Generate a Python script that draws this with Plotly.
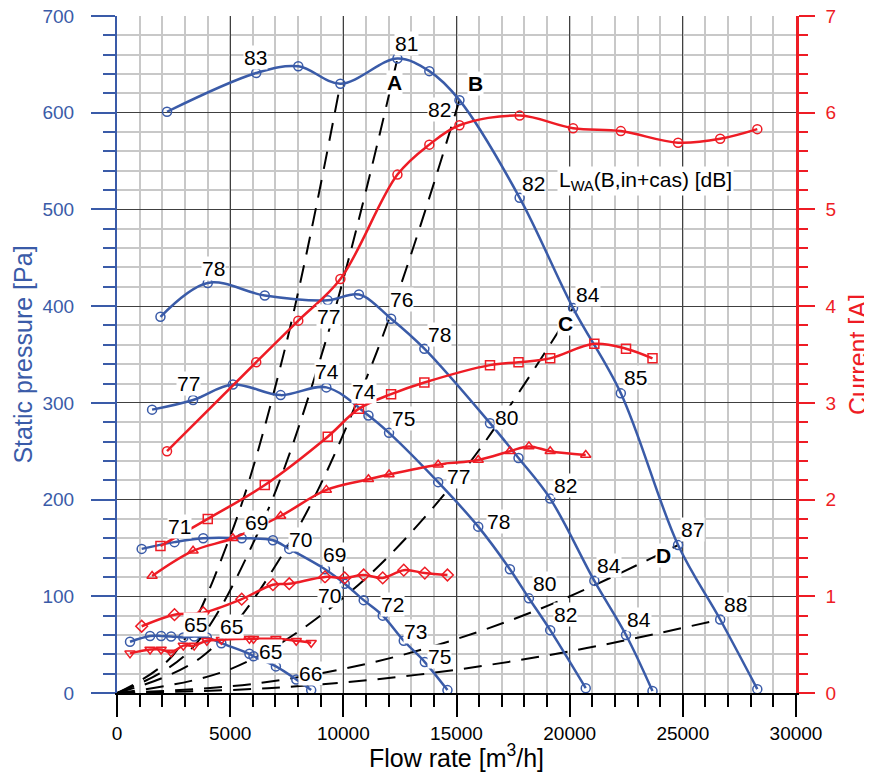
import plotly.graph_objects as go

# ---------------- data ----------------
# Fan curves: flow rate [m3/h], static pressure [Pa], current [A]
q1 = [2210, 6150, 8010, 9870, 12390, 13800, 15130, 17790, 20150, 22260, 24790, 26650, 28290]
p1 = [601, 641, 648, 630, 656, 643, 613, 512, 398, 310, 153, 76, 4]
i1 = [2.50, 3.42, 3.85, 4.28, 5.36, 5.67, 5.87, 5.97, 5.84, 5.81, 5.69, 5.73, 5.83]

q2 = [1920, 4010, 6530, 9310, 10690, 12110, 13580, 16480, 17740, 19140, 21090, 22490, 23660]
p2 = [389, 424, 411, 406, 412, 387, 356, 279, 243, 201, 116, 60, 2]
i2 = [1.52, 1.80, 2.15, 2.65, 2.94, 3.09, 3.21, 3.39, 3.42, 3.46, 3.61, 3.56, 3.46]

q3 = [1550, 3360, 5120, 7230, 9250, 11110, 12020, 14190, 15960, 17360, 18200, 19140, 20710]
p3 = [293, 303, 319, 308, 316, 287, 269, 218, 172, 128, 98, 65, 5]
i3 = [1.21, 1.47, 1.60, 1.83, 2.10, 2.21, 2.26, 2.36, 2.41, 2.50, 2.55, 2.50, 2.46]

q4 = [1090, 2540, 3810, 5510, 6890, 7610, 9190, 10060, 10900, 11740, 12670, 13600, 14600]
p4 = [149, 156, 160, 160, 158, 149, 128, 113, 96, 80, 54, 32, 3]
i4 = [0.69, 0.81, 0.83, 0.97, 1.12, 1.13, 1.20, 1.19, 1.22, 1.19, 1.27, 1.24, 1.22]

q5 = [575, 1460, 1950, 2390, 2930, 3410, 3970, 4610, 5850, 6030, 7020, 7920, 8580]
p5 = [53, 59, 59, 58.5, 57.5, 58.5, 57.5, 51.5, 40.5, 38, 27.5, 14, 3]
i5 = [0.41, 0.45, 0.45, 0.42, 0.49, 0.49, 0.54, 0.55, 0.56, 0.56, 0.56, 0.54, 0.52]

current_symbols = ["circle-open", "square-open", "triangle-up-open", "diamond-open", "triangle-down-open"]

# System curves (dashed)
sys_q = [
    [0, 2470, 4935, 7400, 9870],
    [0, 3100, 6195, 9290, 12390],
    [0, 3780, 7565, 11350, 15130],
    [0, 5040, 10075, 15110, 20150],
    [0, 6200, 12395, 18590, 24790],
    [0, 6660, 13325, 19990, 26650],
]
sys_p = [
    [0, 39, 158, 354, 630],
    [0, 41, 164, 369, 656],
    [0, 38, 153, 345, 613],
    [0, 25, 100, 224, 398],
    [0, 10, 38, 86, 153],
    [0, 5, 19, 43, 76],
]

# Sound power labels LWA [dB]
lab_text = ["83", "81", "82", "82", "84", "85", "87", "88",
            "78", "77", "76", "78", "80", "82", "84", "84",
            "77", "74", "74", "75", "77", "78", "80", "82",
            "71", "69", "70", "69", "70", "72", "73", "75",
            "65", "65", "65", "66"]
lab_q = [6140, 12770, 14270, 18400, 20800, 22890, 25420, 27310,
         4260, 9340, 12580, 14240, 17190, 19820, 21740, 23080,
         3150, 9290, 10910, 12650, 15080, 16850, 18870, 19800,
         2780, 6170, 8120, 9630, 9410, 12170, 13200, 14270,
         3450, 5070, 6760, 8570]
lab_p = [657, 672, 603, 527, 412, 326, 169, 92,
         439, 389, 407, 371, 285, 215, 132, 76,
         320, 332, 312, 284, 224, 177, 113, 81,
         172, 176, 159, 143, 101, 92, 64, 38,
         71, 69, 43, 20]

letter_text = ["A", "B", "C", "D"]
letter_q = [12280, 15850, 19800, 24140]
letter_p = [631, 630, 382, 142]

x_ticks = [0, 5000, 10000, 15000, 20000, 25000, 30000]

BLUE = "#3a5ba8"
RED = "#ee1c25"
FONT = "Arial, Liberation Sans, sans-serif"

fig = go.Figure()

for sq, sp in zip(sys_q, sys_p):
    fig.add_trace(go.Scatter(x=sq, y=sp, mode="lines",
                             line=dict(color="black", width=2, dash="18px,11px", shape="spline"),
                             showlegend=False, hoverinfo="skip"))

for q, p in [(q1, p1), (q2, p2), (q3, p3), (q4, p4), (q5, p5)]:
    fig.add_trace(go.Scatter(x=q, y=p, mode="lines+markers",
                             line=dict(color=BLUE, width=2.5, shape="spline"),
                             marker=dict(symbol="circle-open", size=9, color=BLUE, line=dict(width=1.5)),
                             showlegend=False))

for (q, c), sym in zip([(q1, i1), (q2, i2), (q3, i3), (q4, i4), (q5, i5)], current_symbols):
    fig.add_trace(go.Scatter(x=q, y=c, mode="lines+markers", yaxis="y2",
                             line=dict(color=RED, width=2.5, shape="spline"),
                             marker=dict(symbol=sym, size=9, color=RED, line=dict(width=1.5)),
                             showlegend=False))

annotations = []
for t, x, y in zip(lab_text, lab_q, lab_p):
    annotations.append(dict(x=x, y=y, xref="x", yref="y", text=t, showarrow=False,
                            font=dict(family=FONT, size=21, color="black"),
                            bgcolor="white", borderpad=0, xanchor="center", yanchor="middle"))
for t, x, y in zip(letter_text, letter_q, letter_p):
    annotations.append(dict(x=x, y=y, xref="x", yref="y", text="<b>" + t + "</b>", showarrow=False,
                            font=dict(family=FONT, size=21, color="black"),
                            bgcolor="white", borderpad=0, xanchor="center", yanchor="middle"))
annotations.append(dict(x=19430, y=529, xref="x", yref="y",
                        text="L<sub>WA</sub>(B,in+cas) [dB]", showarrow=False,
                        font=dict(family=FONT, size=21, color="black"),
                        bgcolor="white", borderpad=1, xanchor="left", yanchor="middle"))

fig.update_layout(
    width=864, height=764,
    margin=dict(l=109, r=76, t=8, b=79),
    paper_bgcolor="white", plot_bgcolor="white",
    font=dict(family=FONT),
    annotations=annotations,
    xaxis=dict(range=[0, 30000], tickvals=x_ticks, tickformat="d", ticks="outside", ticklen=22, tickwidth=2,
               tickcolor="black", showline=True, linecolor="black", linewidth=2,
               showgrid=True, gridcolor="#404040", gridwidth=1, zeroline=False,
               tickfont=dict(size=19, color="black"), ticklabelstandoff=0,
               ticklabeloverflow="allow",
               minor=dict(dtick=1000, ticks="outside", ticklen=12, tickwidth=2, tickcolor="black",
                          showgrid=True, gridcolor="#c8c8c8", gridwidth=1.5),
               title=dict(text="Flow rate [m<sup>3</sup>/h]", font=dict(size=25, color="black"), standoff=0),
               automargin=False),
    yaxis=dict(range=[0, 700], dtick=100, ticks="outside", ticklen=24, tickwidth=2,
               tickcolor=BLUE, showline=True, linecolor=BLUE, linewidth=2,
               showgrid=True, gridcolor="#404040", gridwidth=1, zeroline=False,
               tickfont=dict(size=19, color=BLUE), ticklabelstandoff=13,
               ticklabeloverflow="allow",
               minor=dict(dtick=20, ticks="outside", ticklen=12, tickwidth=2, tickcolor=BLUE,
                          showgrid=True, gridcolor="#c8c8c8", gridwidth=1.5),
               title=dict(text="Static pressure [Pa]", font=dict(size=25, color=BLUE), standoff=3),
               automargin=False),
    yaxis2=dict(range=[0, 7], dtick=1, overlaying="y", side="right", ticks="outside", ticklen=16,
                tickwidth=2, tickcolor=RED, showline=True, linecolor=RED, linewidth=2.5,
                showgrid=False, zeroline=False,
                tickfont=dict(size=19, color=RED), ticklabelstandoff=7,
                ticklabeloverflow="allow",
                minor=dict(dtick=0.2, ticks="outside", ticklen=9, tickwidth=2, tickcolor=RED, showgrid=False),
                title=dict(text="Current [A]", font=dict(size=25, color=RED), standoff=19),
                automargin=False),
)

fig.write_html("out.html")
